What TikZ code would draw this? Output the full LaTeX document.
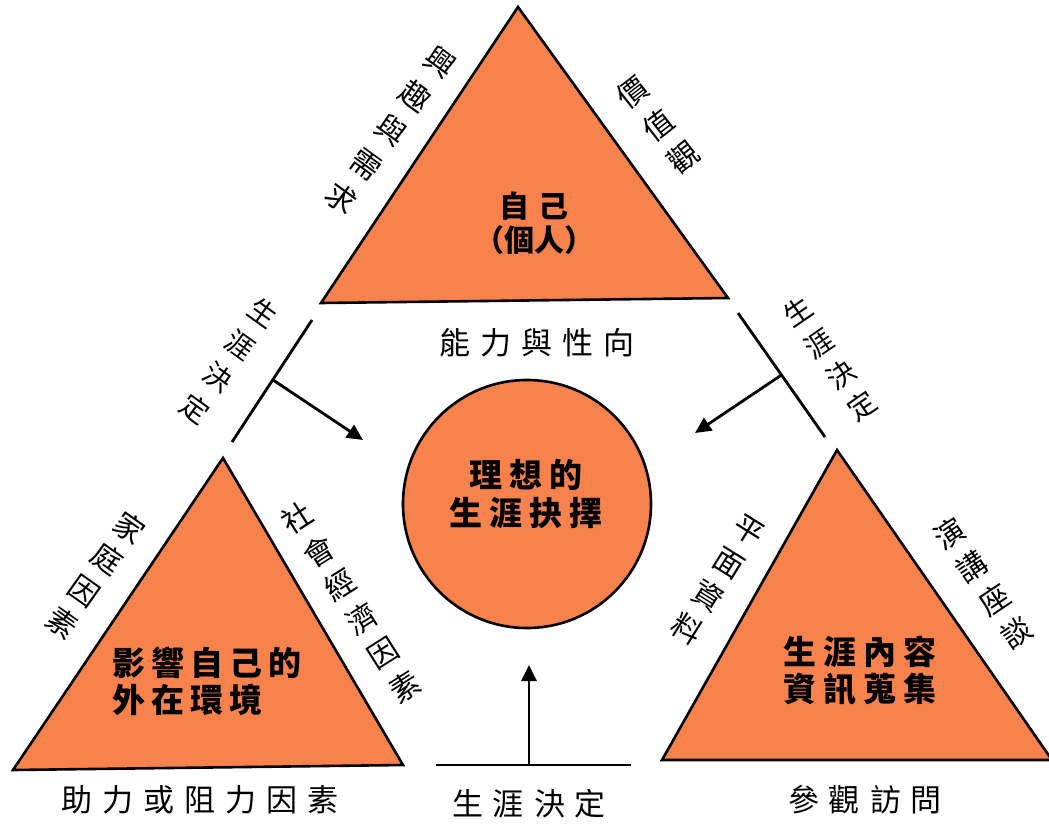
\documentclass[tikz,border=0pt]{standalone}
\usepackage{fontspec}
\setmainfont{Noto Sans CJK TC}
\usetikzlibrary{arrows.meta,calc}
\definecolor{tri}{RGB}{247,130,76}
\newcommand{\gp}[1]{\hspace{#1pt}}
\begin{document}
\begin{tikzpicture}[x=1pt,y=-1pt,
  shapefill/.style={fill=tri,draw=black,line width=2.6pt,line join=miter},
  bar/.style={line width=2.8pt},
  arr/.style={line width=2.8pt,-{Triangle[length=16pt,width=15pt]}},
  lab/.style={inner sep=0pt,font=\fontsize{31}{31}\selectfont},
  vlab/.style={inner sep=0pt,align=center,font=\fontsize{30}{#1}\selectfont},
  vlab/.default=40,
  slab/.style={inner sep=0pt,align=center,font=\fontsize{28}{#1}\selectfont},
  inner/.style={inner sep=0pt,align=center,font=\bfseries\fontsize{33}{#1}\selectfont},
  inner/.default=37]
\useasboundingbox (0,0) rectangle (1049,825);
\fill[white] (0,0) rectangle (1049,825);

% triangles
\coordinate (Ta) at (518,7);   \coordinate (Tb) at (321,303); \coordinate (Tc) at (728,298);
\coordinate (La) at (223,458); \coordinate (Lb) at (13,770);  \coordinate (Lc) at (403,765);
\coordinate (Ra) at (837,450); \coordinate (Rb) at (662,760); \coordinate (Rc) at (1052,760);
\filldraw[shapefill] (Ta) -- (Tb) -- (Tc) -- cycle;
\filldraw[shapefill] (La) -- (Lb) -- (Lc) -- cycle;
\filldraw[shapefill] (Ra) -- (Rb) -- (Rc) -- cycle;

% circle
\node[circle,fill=tri,draw=black,line width=2.6pt,minimum size=248pt,inner sep=0pt] (goal) at (527,504) {};

% decision bars
\coordinate (l1) at (312,320); \coordinate (l2) at (232,442);
\coordinate (r1) at (738,313); \coordinate (r2) at (825,437);
\coordinate (b1) at (436,765); \coordinate (b2) at (631,765);
\draw[bar] (l1) -- (l2);
\draw[bar] (r1) -- (r2);
\draw[bar] (b1) -- (b2);
\coordinate (lm) at ($(l1)!0.49!(l2)$);
\coordinate (rm) at ($(r1)!0.5!(r2)$);
\coordinate (bm) at ($(b1)!0.477!(b2)$);
\coordinate (le) at (363,440);
\coordinate (re) at (695,433);
\coordinate (be) at ($(bm)+(0,-100)$);
\draw[arr] (lm) -- (le);
\draw[arr] (rm) -- (re);
\draw[arr] (bm) -- (be);

% inner texts
\node[inner=33,font=\bfseries\fontsize{30}{34}\selectfont] (selfT) at (534,223) {自\gp{10}己\\（個人）};
\node[inner=38] (goalT) at (526,494) {理\gp{7}想\gp{7}的\\生\gp{7}涯\gp{7}抉\gp{7}擇};
\node[inner=37,align=left,anchor=west] (envT) at (112,681) {影\gp{6}響\gp{6}自\gp{6}己\gp{6}的\\外\gp{6}在\gp{6}環\gp{6}境};
\node[inner=37] (infoT) at (860,671) {生\gp{7}涯\gp{7}內\gp{7}容\\資\gp{7}訊\gp{7}蒐\gp{7}集};

% horizontal labels
\node[lab] (abil) at (537,343) {能\gp{10}力\gp{10}與\gp{10}性\gp{10}向};
\node[lab] (help) at (200,800) {助\gp{10}力\gp{10}或\gp{10}阻\gp{10}力\gp{10}因\gp{10}素};
\node[lab] (decB) at (529,804) {生\gp{10}涯\gp{10}決\gp{10}定};
\node[lab] (visit) at (865,800) {參\gp{10}觀\gp{10}訪\gp{10}問};

% rotated labels
\node[vlab=42,rotate=-36] (interest) at (391,130) {興\\趣\\與\\需\\求};
\node[vlab=41,rotate=38] (value) at (658,125) {價\\值\\觀};
\node[slab=39,rotate=-35.6] (decL) at (229,361) {生\\涯\\決\\定};
\node[slab=38,rotate=34.5] (decR) at (830,359) {生\\涯\\決\\定};
\node[vlab=39,rotate=-35.3] (family) at (96,575) {家\\庭\\因\\素};
\node[vlab=40,rotate=32.4] (social) at (351,602) {社\\會\\經\\濟\\因\\素};
\node[vlab=39,rotate=-32] (print) at (718,580) {平\\面\\資\\料};
\node[vlab=40,rotate=33.8] (talk) at (983,583) {演\\講\\座\\談};
\end{tikzpicture}
\end{document}
